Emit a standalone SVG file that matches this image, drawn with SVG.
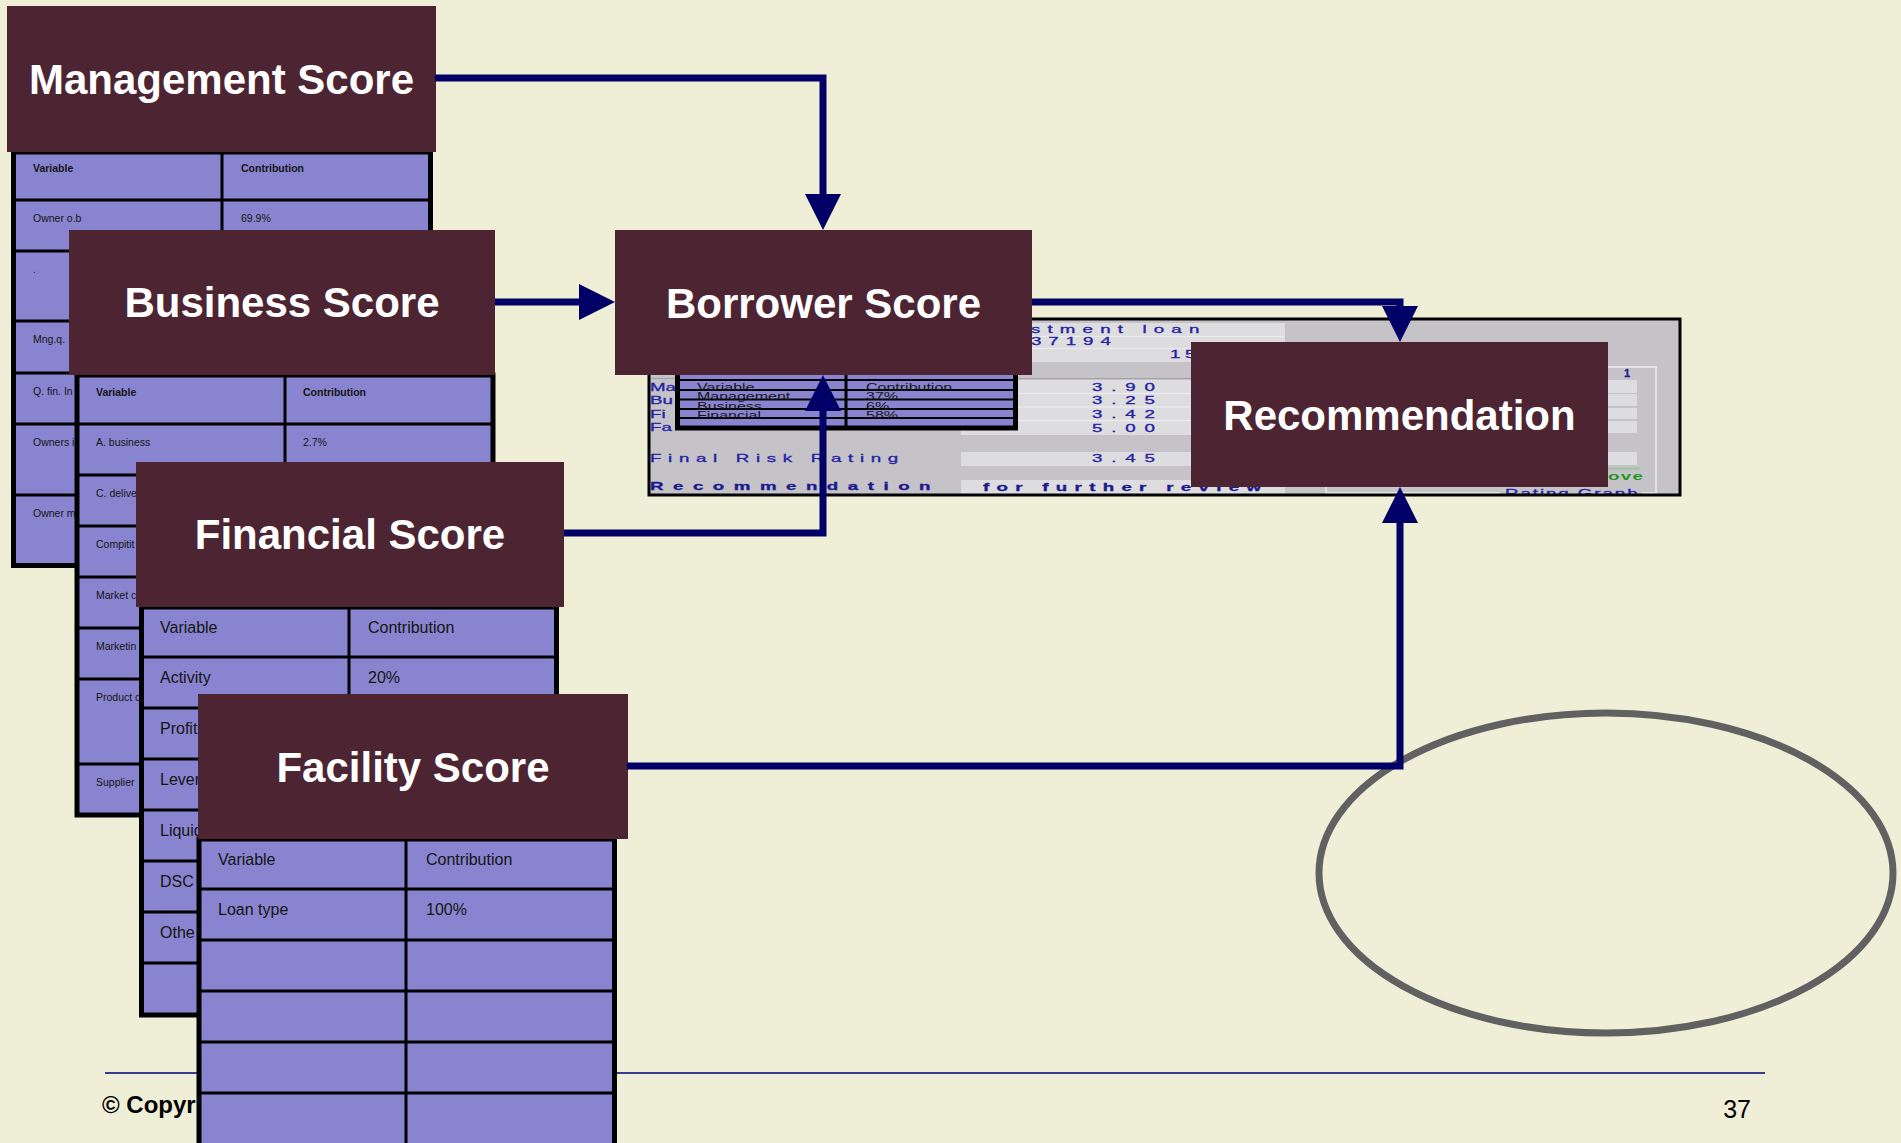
<svg xmlns="http://www.w3.org/2000/svg" width="1901" height="1143" viewBox="0 0 1901 1143">
<defs>
<style>
  text{font-family:"Liberation Sans",Arial,Helvetica,sans-serif}
  .box{fill:#4D2432}
  .title{font-size:42px;font-weight:bold;fill:#fff;text-anchor:middle}
  .tbl{fill:#8884CF;stroke:#000;stroke-width:5}
  .grid{fill:none;stroke:#000;stroke-width:3}
  .cs{font-size:10.5px;fill:#151515}
  .csb{font-size:10.5px;font-weight:bold;fill:#151515}
  .cm{font-size:16px;fill:#151515}
  .pt{font-size:11px;fill:#2222A6;stroke:#2222A6;stroke-width:0.3}
  .ptb{font-size:11px;font-weight:bold;fill:#1A1A8E;stroke:#1A1A8E;stroke-width:0.3}
  .fld{fill:#DDDCDF}
  .conn{fill:none;stroke:#000066;stroke-width:7;stroke-linejoin:miter}
</style>
<marker id="arrow" markerUnits="userSpaceOnUse" markerWidth="36" markerHeight="36" refX="0" refY="18" orient="auto" overflow="visible">
  <path d="M0,0 L36,18 L0,36 Z" fill="#000066"/>
</marker>
<clipPath id="panel-clip"><rect x="650" y="320" width="1029" height="174"/></clipPath>
</defs>

<rect width="1901" height="1143" fill="#EFEFD8"/>

<!-- footer -->
<g id="footer">
  <path d="M105 1073H1765" stroke="#3A3A90" stroke-width="2"/>
  <text x="102" y="1113" font-size="24" font-weight="bold" fill="#000">© Copyr</text>
  <text x="1751" y="1118" font-size="25" text-anchor="end" fill="#000">37</text>
</g>

<!-- empty highlight ellipse -->
<g id="highlight-ellipse">
  <ellipse cx="1606" cy="873" rx="287" ry="160" fill="none" stroke="#616161" stroke-width="7"/>
</g>

<!-- rating screen -->
<g id="rating-panel">
  <rect x="649" y="319" width="1031" height="176" fill="#C5C3C7"/>
  <g clip-path="url(#panel-clip)">
    <rect class="fld" x="990" y="323" width="295" height="39"/>
    <path d="M990 336.5H1285M990 348.5H1285" stroke="#ECECEE" stroke-width="1"/>
    <path d="M650 378.5H1285" stroke="#A2A1A6" stroke-width="1"/>
    <rect class="fld" x="961" y="380" width="324" height="55"/>
    <path d="M961 393.5H1285M961 407H1285M961 420.5H1285" stroke="#EEEEF0" stroke-width="1"/>
    <rect class="fld" x="961" y="452" width="324" height="14"/>
    <rect class="fld" x="961" y="480" width="324" height="14"/>

    <text class="pt" transform="translate(1031 333) scale(1.7 1)" textLength="99" lengthAdjust="spacing">stment loan</text>
    <text class="pt" transform="translate(1031 345) scale(1.7 1)" textLength="47" lengthAdjust="spacing">37194</text>
    <text class="pt" transform="translate(1170 358) scale(1.7 1)" textLength="15" lengthAdjust="spacing">15</text>

    <text class="pt" transform="translate(650 391) scale(1.7 1)">Ma</text>
    <text class="pt" transform="translate(650 404) scale(1.7 1)">Bu</text>
    <text class="pt" transform="translate(650 418) scale(1.7 1)">Fi</text>
    <text class="pt" transform="translate(650 431) scale(1.7 1)">Fa</text>

    <text class="pt" transform="translate(1092 391) scale(1.7 1)" textLength="37" lengthAdjust="spacing">3.90</text>
    <text class="pt" transform="translate(1092 404) scale(1.7 1)" textLength="37" lengthAdjust="spacing">3.25</text>
    <text class="pt" transform="translate(1092 418) scale(1.7 1)" textLength="37" lengthAdjust="spacing">3.42</text>
    <text class="pt" transform="translate(1092 432) scale(1.7 1)" textLength="37" lengthAdjust="spacing">5.00</text>

    <text class="pt" transform="translate(650 462) scale(1.7 1)" textLength="146" lengthAdjust="spacing">Final Risk Rating</text>
    <text class="pt" transform="translate(1092 462) scale(1.7 1)" textLength="37" lengthAdjust="spacing">3.45</text>
    <text class="ptb" transform="translate(650 490) scale(1.7 1)" textLength="165" lengthAdjust="spacing">Recommendation</text>
    <text class="ptb" transform="translate(983 491) scale(1.7 1)" textLength="163.5" lengthAdjust="spacing">for further review</text>

    <!-- graph frame on the right -->
    <rect x="1326" y="367" width="330" height="126" fill="none" stroke="#E4E4E6" stroke-width="2"/>
    <rect class="fld" x="1560" y="380" width="77" height="13"/>
    <rect class="fld" x="1560" y="394" width="77" height="12"/>
    <rect class="fld" x="1560" y="408" width="77" height="11"/>
    <rect class="fld" x="1560" y="421" width="77" height="12"/>
    <rect class="fld" x="1560" y="452" width="77" height="13"/>
    <text class="ptb" x="1624" y="377" font-size="9">1</text>
    <path d="M1340 468.5H1640" stroke="#9CC89C" stroke-width="2"/>
    <text transform="translate(1608 480) scale(1.7 1)" textLength="20.6" lengthAdjust="spacing" font-size="11" font-weight="bold" fill="#1F9A1F">ove</text>
    <rect x="1500" y="486" width="142" height="9" fill="#C5C3C7"/>
    <text class="pt" transform="translate(1505 497) scale(1.7 1)" textLength="78" lengthAdjust="spacing">Rating Graph</text>
  </g>
  <rect x="649" y="319" width="1031" height="176" fill="none" stroke="#000" stroke-width="3"/>

  <!-- borrower contribution table -->
  <rect class="tbl" x="677.5" y="368" width="338" height="60"/>
  <path d="M677.5 380H1015.5M677.5 390H1015.5M677.5 399.5H1015.5M677.5 409H1015.5M677.5 418H1015.5" stroke="#000" stroke-width="2"/>
  <path d="M846 368V428" stroke="#000" stroke-width="3"/>
  <text class="cm" transform="translate(697 391) scale(1 0.7)">Variable</text>
  <text class="cm" transform="translate(697 400) scale(1 0.7)">Management</text>
  <text class="cm" transform="translate(697 409.5) scale(1 0.7)">Business</text>
  <text class="cm" transform="translate(697 418.5) scale(1 0.7)">Financial</text>
  <text class="cm" transform="translate(866 391) scale(1 0.7)">Contribution</text>
  <text class="cm" transform="translate(866 400) scale(1 0.7)">37%</text>
  <text class="cm" transform="translate(866 409.5) scale(1 0.7)">6%</text>
  <text class="cm" transform="translate(866 418.5) scale(1 0.7)">58%</text>
</g>

<!-- Management Score -->
<g id="node-management">
  <rect class="tbl" x="13.5" y="152" width="417" height="413.5"/>
  <path class="grid" d="M13.5 200H430.5M13.5 251H430.5M13.5 321H430.5M13.5 373H430.5M13.5 424H430.5M13.5 495H430.5M222 152V565.5"/>
  <text class="csb" x="33" y="172">Variable</text>
  <text class="csb" x="241" y="172">Contribution</text>
  <text class="cs" x="33" y="222">Owner o.b</text>
  <text class="cs" x="241" y="222">69.9%</text>
  <text class="cs" x="33" y="273">.</text>
  <text class="cs" x="33" y="343">Mng.q.</text>
  <text class="cs" x="33" y="395">Q. fin. In</text>
  <text class="cs" x="33" y="446">Owners i</text>
  <text class="cs" x="33" y="517">Owner m</text>
  <rect class="box" x="7" y="6" width="429" height="146"/>
  <text class="title" x="221.5" y="93.5">Management Score</text>
</g>

<!-- Business Score -->
<g id="node-business">
  <rect class="tbl" x="77" y="375" width="416" height="440"/>
  <path class="grid" d="M77 424H493M77 475H493M77 526H493M77 577H493M77 628H493M77 679H493M77 764H493M285 375V815"/>
  <text class="csb" x="96" y="396">Variable</text>
  <text class="csb" x="303" y="396">Contribution</text>
  <text class="cs" x="96" y="446">A. business</text>
  <text class="cs" x="303" y="446">2.7%</text>
  <text class="cs" x="96" y="497">C. delive</text>
  <text class="cs" x="96" y="548">Compitit</text>
  <text class="cs" x="96" y="599">Market c</text>
  <text class="cs" x="96" y="650">Marketin</text>
  <text class="cs" x="96" y="701">Product c</text>
  <text class="cs" x="96" y="786">Supplier</text>
  <rect class="box" x="69" y="230" width="426" height="145"/>
  <text class="title" x="282" y="317">Business Score</text>
</g>

<!-- Financial Score -->
<g id="node-financial">
  <rect class="tbl" x="141.5" y="607" width="415" height="408"/>
  <path class="grid" d="M141.5 657H556.5M141.5 708H556.5M141.5 759H556.5M141.5 810H556.5M141.5 861H556.5M141.5 912H556.5M141.5 963H556.5M349 607V1015"/>
  <text class="cm" x="160" y="633">Variable</text>
  <text class="cm" x="368" y="633">Contribution</text>
  <text class="cm" x="160" y="683">Activity</text>
  <text class="cm" x="368" y="683">20%</text>
  <text class="cm" x="160" y="734">Profit</text>
  <text class="cm" x="160" y="785">Lever</text>
  <text class="cm" x="160" y="836">Liquid</text>
  <text class="cm" x="160" y="887">DSC</text>
  <text class="cm" x="160" y="938">Othe</text>
  <rect class="box" x="136" y="462" width="428" height="145"/>
  <text class="title" x="350" y="549">Financial Score</text>
</g>

<!-- Facility Score -->
<g id="node-facility">
  <rect class="tbl" x="199" y="839" width="415.5" height="330"/>
  <path class="grid" d="M199 889H614.5M199 940H614.5M199 991H614.5M199 1042H614.5M199 1093H614.5M406 839V1160"/>
  <text class="cm" x="218" y="865">Variable</text>
  <text class="cm" x="426" y="865">Contribution</text>
  <text class="cm" x="218" y="915">Loan type</text>
  <text class="cm" x="426" y="915">100%</text>
  <rect class="box" x="198" y="694" width="430" height="145"/>
  <text class="title" x="413" y="782">Facility Score</text>
</g>

<!-- Borrower Score -->
<g id="node-borrower">
  <rect class="box" x="615" y="230" width="417" height="145"/>
  <text class="title" x="823.5" y="317.5">Borrower Score</text>
</g>

<!-- Recommendation -->
<g id="node-recommendation">
  <rect class="box" x="1191" y="342" width="417" height="145"/>
  <text class="title" x="1399.5" y="429.5">Recommendation</text>
</g>

<!-- connectors -->
<g id="connectors">
  <path class="conn" marker-end="url(#arrow)" d="M435 78H823V194"/>
  <path class="conn" marker-end="url(#arrow)" d="M495 302H579"/>
  <path class="conn" marker-end="url(#arrow)" d="M564 533H823V411"/>
  <path class="conn" marker-end="url(#arrow)" d="M1032 302H1400V306"/>
  <path class="conn" marker-end="url(#arrow)" d="M627 766H1400V523"/>
</g>
</svg>
